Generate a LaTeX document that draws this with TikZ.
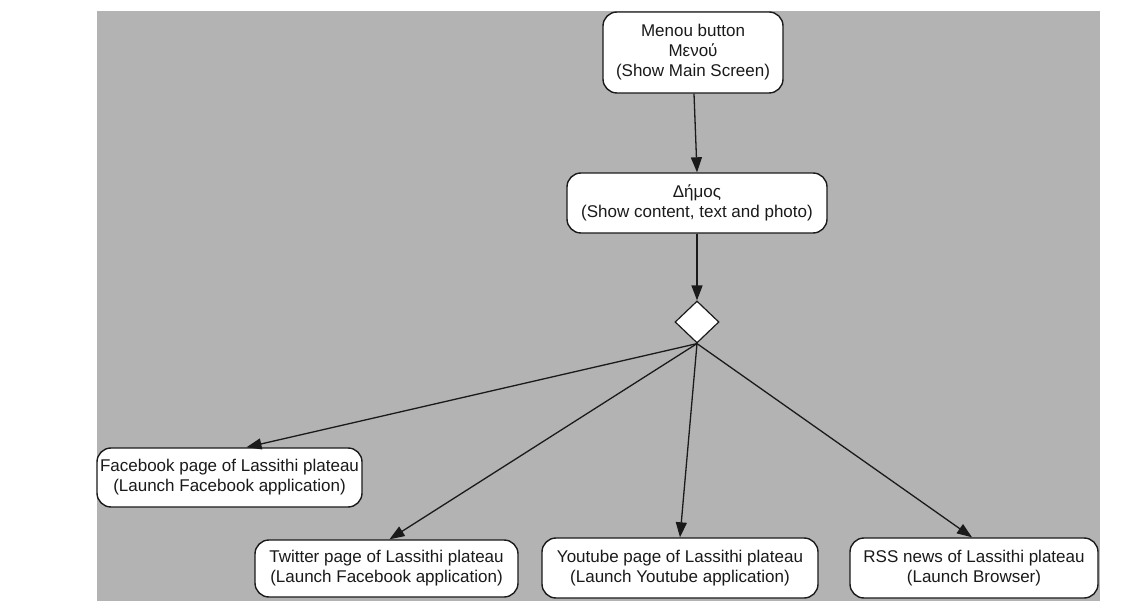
\documentclass[tikz,border=0pt]{standalone}
\usepackage{fontspec}
\setmainfont{Liberation Sans}
\usetikzlibrary{arrows.meta,shapes.geometric}
\definecolor{bggray}{HTML}{B3B3B3}
\definecolor{ink}{HTML}{1A1A1A}
\tikzset{
  box/.style={draw=ink, line width=1.4pt, fill=white, rounded corners=14pt,
    align=center, inner sep=0pt, text=ink, font=\fontsize{17}{20}\selectfont},
  dec/.style={draw=ink, line width=1.2pt, fill=white, diamond, aspect=1,
    inner sep=0pt, minimum width=44pt, minimum height=42pt},
  flow/.style={draw=ink, line width=1.3pt, -{Triangle[length=15pt,width=11pt]}}
}
\begin{document}
\begin{tikzpicture}[x=1pt,y=-1pt]
\useasboundingbox (0,0) rectangle (1137,601);
\fill[white] (0,0) rectangle (1137,601);
\fill[bggray] (97,11) rectangle (1100,601);
\node[box, minimum width=180pt, minimum height=81pt] (menu) at (693,52.5)
  {Menou button\\Μενού\\(Show Main Screen)};
\node[box, minimum width=260pt, minimum height=60pt] (dimos) at (697,203)
  {Δήμος\\(Show content, text and photo)};
\node[dec] (d) at (697,322) {};
\node[box, minimum width=265pt, minimum height=59pt] (fb) at (229.5,477.5)
  {Facebook page of Lassithi plateau\\(Launch Facebook application)};
\node[box, minimum width=263pt, minimum height=57pt] (tw) at (386.5,568.5)
  {Twitter page of Lassithi plateau\\(Launch Facebook application)};
\node[box, minimum width=276pt, minimum height=60pt] (yt) at (680,568)
  {Youtube page of Lassithi plateau\\(Launch Youtube application)};
\node[box, minimum width=248pt, minimum height=60pt] (rss) at (974,568)
  {RSS news of Lassithi plateau\\(Launch Browser)};
\draw[flow] ([xshift=1pt]menu.south) -- (dimos.north);
\draw[flow] (dimos.south) -- (d.north);
\draw[flow] (d.south) -- ([xshift=17pt]fb.north);
\draw[flow] (d.south) -- ([xshift=3pt]tw.north);
\draw[flow] (d.south) -- (yt.north);
\draw[flow] (d.south) -- ([xshift=-2pt]rss.north);
\end{tikzpicture}
\end{document}
